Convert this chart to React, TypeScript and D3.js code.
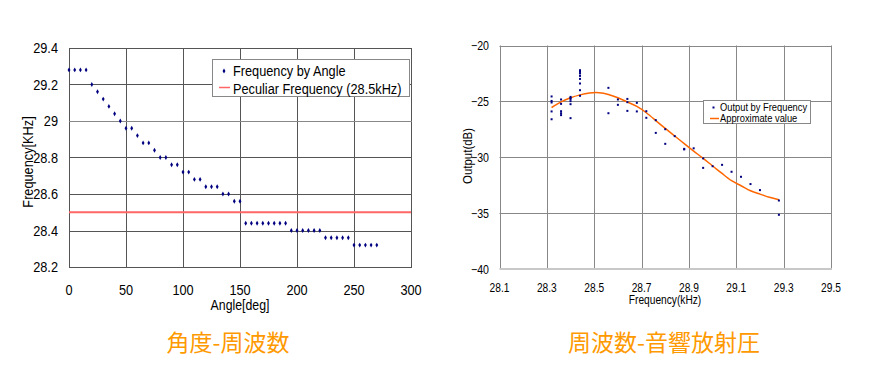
import React, { useEffect, useRef } from "react";
import * as d3 from "d3";

// left chart: frequency vs angle
const angles = [
  0, 5, 10, 15, 20, 25, 30, 35, 40, 45, 50, 55, 60, 65, 70, 75, 80, 85, 90, 95,
  100, 105, 110, 115, 120, 125, 130, 135, 140, 145, 150, 155, 160, 165, 170, 175,
  180, 185, 190, 195, 200, 205, 210, 215, 220, 225, 230, 235, 240, 245, 250, 255,
  260, 265, 270,
];
const freqByAngle = [
  29.28, 29.28, 29.28, 29.28, 29.2, 29.16, 29.12, 29.08, 29.04, 29.0, 28.96, 28.96,
  28.92, 28.88, 28.88, 28.84, 28.8, 28.8, 28.76, 28.76, 28.72, 28.72, 28.68, 28.68,
  28.64, 28.64, 28.64, 28.6, 28.6, 28.56, 28.56, 28.44, 28.44, 28.44, 28.44, 28.44,
  28.44, 28.44, 28.44, 28.4, 28.4, 28.4, 28.4, 28.4, 28.4, 28.36, 28.36, 28.36,
  28.36, 28.36, 28.32, 28.32, 28.32, 28.32, 28.32,
];
const peculiarFreq = 28.5;
const angleTicks = [0, 50, 100, 150, 200, 250, 300];
const freqTicks = [28.2, 28.4, 28.6, 28.8, 29.0, 29.2, 29.4];

// right chart: output vs frequency
const outFreq = [
  28.32, 28.32, 28.32, 28.32, 28.32,
  28.36, 28.36, 28.36, 28.36, 28.36,
  28.4, 28.4, 28.4, 28.4, 28.4, 28.4,
  28.44, 28.44, 28.44, 28.44, 28.44, 28.44, 28.44, 28.44,
  28.56, 28.56, 28.6, 28.6, 28.64, 28.64, 28.64, 28.68, 28.68, 28.72, 28.72,
  28.76, 28.76, 28.8, 28.8, 28.84, 28.88, 28.88, 28.92, 28.96, 28.96, 29.0,
  29.04, 29.08, 29.12, 29.16, 29.2, 29.28, 29.28,
];
const outDb = [
  -24.56, -24.96, -25.1, -25.9, -26.6,
  -24.83, -25.22, -25.88, -26.06, -26.23,
  -24.6, -24.7, -24.8, -24.98, -25.25, -26.5,
  -22.21, -22.36, -22.5, -22.72, -22.99, -23.4, -24.0, -24.5,
  -23.79, -26.06, -24.83, -25.31, -24.78, -25.07, -25.85, -25.13, -25.9, -25.88, -26.47,
  -26.68, -27.82, -27.49, -28.8, -28.11, -29.25, -29.3, -29.2, -30.1, -30.95, -30.8,
  -30.68, -31.3, -31.75, -32.4, -32.94, -33.87, -35.15,
];
// approximate curve
const approxFreq = [
  28.32, 28.36, 28.4, 28.44, 28.48, 28.52, 28.56, 28.6, 28.64, 28.68, 28.72, 28.76,
  28.8, 28.84, 28.88, 28.92, 28.96, 29.0, 29.04, 29.08, 29.12, 29.16, 29.2, 29.24, 29.28,
];
const approxDb = [
  -25.55, -25.05, -24.68, -24.42, -24.25, -24.22, -24.38, -24.68, -25.05, -25.45,
  -26.02, -26.72, -27.42, -28.1, -28.78, -29.45, -30.1, -30.78, -31.45, -32.1,
  -32.55, -33.0, -33.3, -33.58, -33.8,
];
const khzTicks = [28.1, 28.3, 28.5, 28.7, 28.9, 29.1, 29.3, 29.5];
const dbTicks = [-40, -35, -30, -25, -20];

const sans = "'Liberation Sans', Arial, sans-serif";
const cjk = "'Noto Sans CJK JP', sans-serif";
const squeeze = 0.85; // the original font is narrow

// text helper: condensed via scaleX
function label(
  g: any,
  x: number,
  y: number,
  s: string,
  size: number,
  anchor = "start",
  rot = 0
) {
  return g
    .append("text")
    .attr("transform", `translate(${x},${y}) rotate(${rot}) scale(${squeeze},1)`)
    .attr("dy", "0.36em")
    .attr("text-anchor", anchor)
    .style("font-family", sans)
    .style("font-size", size + "px")
    .attr("fill", "#000")
    .text(s);
}

const App = () => {
  const ref = useRef<SVGSVGElement>(null);

  useEffect(() => {
    const svg = d3.select(ref.current);
    svg.selectAll("*").remove();

    // ---------- left chart ----------
    const x1 = d3.scaleLinear().domain([0, 300]).range([69, 411]);
    const y1 = d3.scaleLinear().domain([28.2, 29.4]).range([267, 48]);
    const g1 = svg.append("g");

    g1.selectAll(".vg")
      .data(angleTicks)
      .enter()
      .append("line")
      .attr("x1", (d) => Math.round(x1(d)) + 0.5)
      .attr("x2", (d) => Math.round(x1(d)) + 0.5)
      .attr("y1", y1(29.4))
      .attr("y2", y1(28.2))
      .attr("stroke", "#555")
      .attr("stroke-width", 1);
    g1.selectAll(".hg")
      .data(freqTicks)
      .enter()
      .append("line")
      .attr("x1", x1(0))
      .attr("x2", x1(300) + 1)
      .attr("y1", (d) => Math.round(y1(d)) + 0.5)
      .attr("y2", (d) => Math.round(y1(d)) + 0.5)
      .attr("stroke", (d) => (d === 29.0 ? "#888" : "#555"))
      .attr("stroke-width", 1);

    g1.append("line")
      .attr("x1", x1(0))
      .attr("x2", x1(300))
      .attr("y1", y1(peculiarFreq))
      .attr("y2", y1(peculiarFreq))
      .attr("stroke", "#ff6666")
      .attr("stroke-width", 2);

    const diamond = d3.symbol().type(d3.symbolDiamond).size(7);
    g1.selectAll(".pt")
      .data(angles)
      .enter()
      .append("path")
      .attr("d", diamond)
      .attr("transform", (d, i) => `translate(${x1(d)},${y1(freqByAngle[i])})`)
      .attr("fill", "#000080");

    freqTicks.forEach((d) => label(g1, 58, y1(d), d3.format("~f")(d), 15, "end"));
    angleTicks.forEach((d) => label(g1, x1(d), 290, String(d), 15, "middle"));
    label(g1, 240, 305, "Angle[deg]", 14.5, "middle");
    label(g1, 28, 162, "Frequency[KHz]", 15, "middle", -90);

    // legend
    const lg1 = g1.append("g");
    lg1.append("rect")
      .attr("x", 212.5)
      .attr("y", 59.5)
      .attr("width", 197)
      .attr("height", 37)
      .attr("fill", "#fff")
      .attr("stroke", "#888");
    lg1.append("path")
      .attr("d", diamond)
      .attr("transform", "translate(224,71)")
      .attr("fill", "#000080");
    lg1.append("line")
      .attr("x1", 219)
      .attr("x2", 230)
      .attr("y1", 87.5)
      .attr("y2", 87.5)
      .attr("stroke", "#ff6666")
      .attr("stroke-width", 1.5);
    label(lg1, 233, 71, "Frequency by Angle", 15);
    label(lg1, 233, 88.5, "Peculiar Frequency (28.5kHz)", 15);

    // ---------- right chart ----------
    const x2 = d3.scaleLinear().domain([28.1, 29.5]).range([499.5, 831]);
    const y2 = d3.scaleLinear().domain([-40, -20]).range([269, 45.5]);
    const g2 = svg.append("g");

    g2.selectAll(".vg")
      .data(khzTicks)
      .enter()
      .append("line")
      .attr("x1", (d) => Math.round(x2(d)) + 0.5)
      .attr("x2", (d) => Math.round(x2(d)) + 0.5)
      .attr("y1", y2(-20))
      .attr("y2", y2(-40))
      .attr("stroke", "#888")
      .attr("stroke-width", 1);
    g2.selectAll(".hg")
      .data(dbTicks.filter((d) => d !== -40))
      .enter()
      .append("line")
      .attr("x1", x2(28.1))
      .attr("x2", x2(29.5))
      .attr("y1", (d) => Math.round(y2(d)) + 0.5)
      .attr("y2", (d) => Math.round(y2(d)) + 0.5)
      .attr("stroke", "#888")
      .attr("stroke-width", 1);
    g2.append("line")
      .attr("x1", x2(28.1))
      .attr("x2", x2(29.5) + 1)
      .attr("y1", y2(-40))
      .attr("y2", y2(-40))
      .attr("stroke", "#c8c8c8")
      .attr("stroke-width", 2);

    const curve = d3
      .line<number>()
      .x((d) => x2(d))
      .y((d, i) => y2(approxDb[i]))
      .curve(d3.curveNatural);
    g2.append("path")
      .attr("d", curve(approxFreq))
      .attr("fill", "none")
      .attr("stroke", "#ff6600")
      .attr("stroke-width", 1.5);

    g2.selectAll(".pt")
      .data(outFreq)
      .enter()
      .append("rect")
      .attr("x", (d) => x2(d) - 1)
      .attr("y", (d, i) => y2(outDb[i]) - 1)
      .attr("width", 2)
      .attr("height", 2)
      .attr("fill", "#000080");

    dbTicks.forEach((d) =>
      label(g2, 489, y2(d), String(d).replace("-", "\u2212"), 12.5, "end")
    );
    khzTicks.forEach((d) => label(g2, x2(d), 288, d.toFixed(1), 12, "middle"));
    label(g2, 665, 300, "Frequency(kHz)", 12, "middle");
    label(g2, 467, 156, "Output(dB)", 13.5, "middle", -90);

    const lg2 = g2.append("g");
    lg2.append("rect")
      .attr("x", 703.5)
      .attr("y", 100.5)
      .attr("width", 107)
      .attr("height", 23)
      .attr("fill", "#fff")
      .attr("stroke", "#888");
    lg2.append("rect")
      .attr("x", 712.5)
      .attr("y", 106.5)
      .attr("width", 2)
      .attr("height", 2)
      .attr("fill", "#000080");
    lg2.append("line")
      .attr("x1", 710)
      .attr("x2", 719)
      .attr("y1", 118.5)
      .attr("y2", 118.5)
      .attr("stroke", "#ff6600")
      .attr("stroke-width", 1.5);
    label(lg2, 720, 107.5, "Output by Frequency", 11);
    label(lg2, 720, 118.5, "Approximate value", 11);

    // ---------- captions ----------
    svg.selectAll(".cap")
      .data([
        { t: "角度-周波数", x: 228 },
        { t: "周波数-音響放射圧", x: 664 },
      ])
      .enter()
      .append("text")
      .attr("x", (d) => d.x)
      .attr("y", 343)
      .attr("dy", "0.36em")
      .attr("text-anchor", "middle")
      .attr("fill", "#ff9900")
      .style("font-family", cjk)
      .style("font-size", "23px")
      .text((d) => d.t);
  }, []);

  return (
    <div style={{ position: "absolute", left: 0, top: 0 }}>
      <svg ref={ref} width={881} height={369} style={{ display: "block", background: "#fff" }} />
    </div>
  );
};

export default App;
